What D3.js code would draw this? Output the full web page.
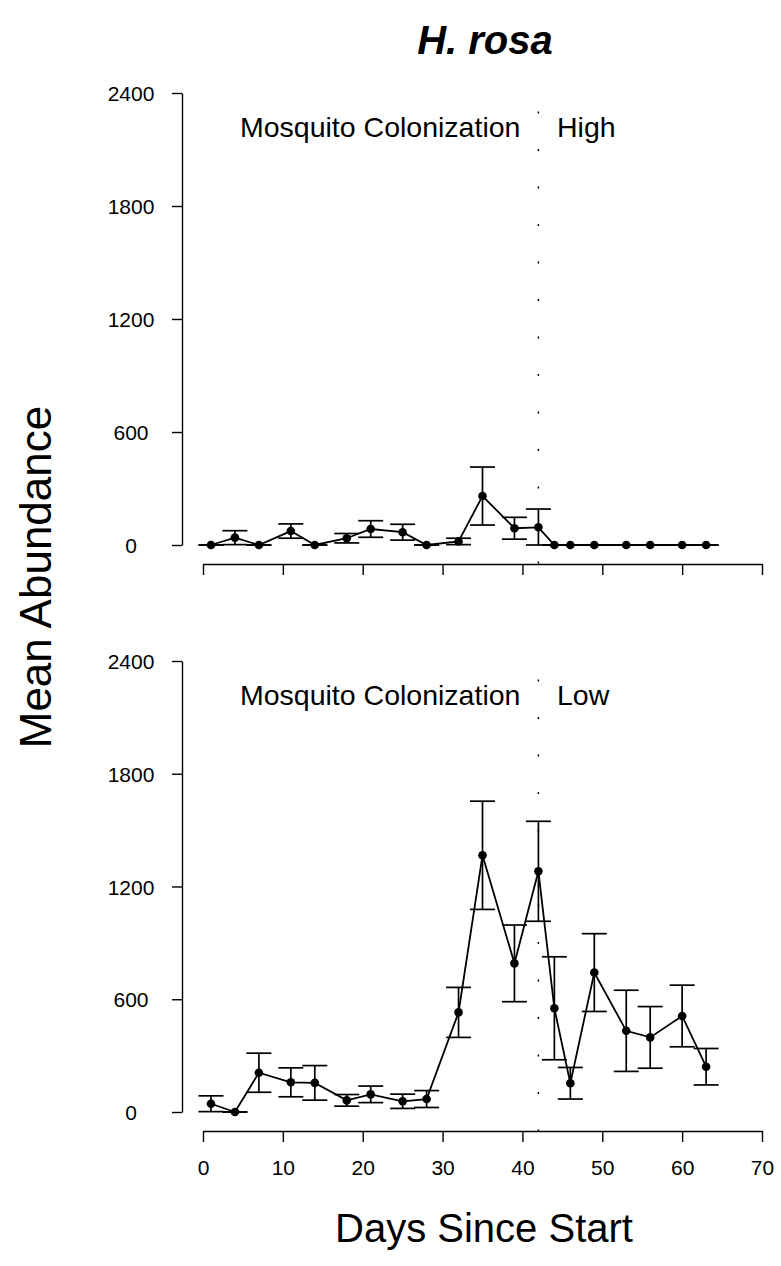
<!DOCTYPE html>
<html>
<head>
<meta charset="utf-8">
<script src="https://cdn.jsdelivr.net/npm/d3@7"></script>
<style>
  html, body { margin: 0; padding: 0; background: #fff; }
  svg text { font-family: "Liberation Sans", Arial, Helvetica, sans-serif; fill: #000; }
</style>
</head>
<body>
<svg id="chart" width="781" height="1266"></svg>
<script>
// Sampling days (same for both treatments)
const days = [1, 4, 7, 11, 14, 18, 21, 25, 28, 32, 35, 39, 42, 44, 46, 49, 53, 56, 60, 63];

// High mosquito colonization: mean abundance and standard error
const highMean = [0, 39, 0, 74, 0, 36, 85, 68, 0, 19, 260, 89, 94, 0, 0, 0, 0, 0, 0, 0];
const highSE   = [0, 37, 0, 38, 0, 25, 44, 42, 0, 17, 154, 58, 97, 0, 0, 0, 0, 0, 0, 0];

// Low mosquito colonization: mean abundance and standard error
const lowMean = [44, 0, 209, 158, 155, 62, 94, 57, 69, 530, 1366, 791, 1281, 552, 153, 742, 432, 397, 511, 241];
const lowSE   = [42, 0, 104, 77, 92, 31, 44, 38, 45, 133, 288, 204, 266, 274, 84, 207, 216, 164, 164, 97];

// Axis ticks and the day marking the colonization switch
const yTicks = [0, 600, 1200, 1800, 2400];
const xTicks = [0, 10, 20, 30, 40, 50, 60, 70];
const switchDay = 42;

const panels = [
  { label: "High", mean: highMean, se: highSE, top: 93, bottom: 545, axisY: 564, showXLabels: false },
  { label: "Low",  mean: lowMean,  se: lowSE,  top: 661, bottom: 1112, axisY: 1131, showXLabels: true }
];

const svg = d3.select("#chart");
const x = d3.scaleLinear().domain([0, 70]).range([203, 762]);
const yAxisX = 182;
const capHalf = 12.5;

// Title
svg.append("text")
  .attr("x", 485).attr("y", 54)
  .attr("text-anchor", "middle")
  .style("font-size", "40px").style("font-weight", "bold").style("font-style", "italic")
  .text("H. rosa");

panels.forEach(p => {
  const y = d3.scaleLinear().domain([0, 2400]).range([p.bottom, p.top]);
  const g = svg.append("g");

  // Y axis: line, ticks on the left, centred labels
  const yAx = g.append("g").attr("transform", `translate(${yAxisX},0)`)
    .call(d3.axisLeft(y).tickValues(yTicks).tickFormat(d3.format("d"))
      .tickSize(10).tickSizeOuter(0).tickPadding(0));
  yAx.select(".domain").attr("stroke", "#000").attr("stroke-width", 1.4);
  yAx.selectAll(".tick line").attr("stroke", "#000").attr("stroke-width", 1.4);
  yAx.selectAll(".tick text")
    .attr("x", 131 - yAxisX).attr("dy", "0.36em")
    .attr("text-anchor", "middle")
    .style("font-size", "21px");

  // X axis: line spanning 0–70, ticks downward
  const xAx = g.append("g").attr("transform", `translate(0,${p.axisY})`)
    .call(d3.axisBottom(x).tickValues(xTicks).tickFormat(d3.format("d"))
      .tickSize(11).tickSizeOuter(0).tickPadding(18));
  xAx.select(".domain").attr("stroke", "#000").attr("stroke-width", 1.4);
  xAx.selectAll(".tick line").attr("stroke", "#000").attr("stroke-width", 1.4);
  xAx.selectAll(".tick text").style("font-size", "21px");
  if (!p.showXLabels) xAx.selectAll(".tick text").remove();

  // Dotted line at the colonization switch
  g.append("line")
    .attr("x1", x(switchDay)).attr("x2", x(switchDay))
    .attr("y1", y(2302)).attr("y2", p.axisY)
    .attr("stroke", "#000").attr("stroke-width", 1.5)
    .attr("stroke-dasharray", "2,35.5");

  // Panel annotations
  g.append("text")
    .attr("x", 240).attr("y", y(2400) + 44)
    .style("font-size", "28.5px")
    .text("Mosquito Colonization");
  g.append("text")
    .attr("x", 557).attr("y", y(2400) + 44)
    .style("font-size", "28.5px")
    .text(p.label);

  const pts = days.map((d, i) => ({ d, m: p.mean[i], s: p.se[i] }));

  // Error bars: mean ± SE, truncated at zero
  const eb = g.append("g").attr("stroke", "#000").attr("stroke-width", 1.7).attr("fill", "none");
  pts.forEach(pt => {
    const hi = pt.m + pt.s;
    const lo = Math.max(0, pt.m - pt.s);
    const cx = x(pt.d);
    eb.append("line").attr("x1", cx).attr("x2", cx).attr("y1", y(lo)).attr("y2", y(hi));
    eb.append("line").attr("x1", cx - capHalf).attr("x2", cx + capHalf).attr("y1", y(hi)).attr("y2", y(hi));
    eb.append("line").attr("x1", cx - capHalf).attr("x2", cx + capHalf).attr("y1", y(lo)).attr("y2", y(lo));
  });

  // Mean line and points
  g.append("path")
    .datum(pts)
    .attr("fill", "none").attr("stroke", "#000").attr("stroke-width", 1.8)
    .attr("d", d3.line().x(pt => x(pt.d)).y(pt => y(pt.m)));
  g.selectAll("circle.pt").data(pts).enter().append("circle")
    .attr("class", "pt")
    .attr("cx", pt => x(pt.d)).attr("cy", pt => y(pt.m))
    .attr("r", 4.3).attr("fill", "#000");
});

// Axis titles
svg.append("text")
  .attr("transform", "translate(51,577) rotate(-90)")
  .attr("text-anchor", "middle")
  .style("font-size", "44px")
  .text("Mean Abundance");
svg.append("text")
  .attr("x", 484).attr("y", 1242)
  .attr("text-anchor", "middle")
  .style("font-size", "40px")
  .text("Days Since Start");
</script>
</body>
</html>
